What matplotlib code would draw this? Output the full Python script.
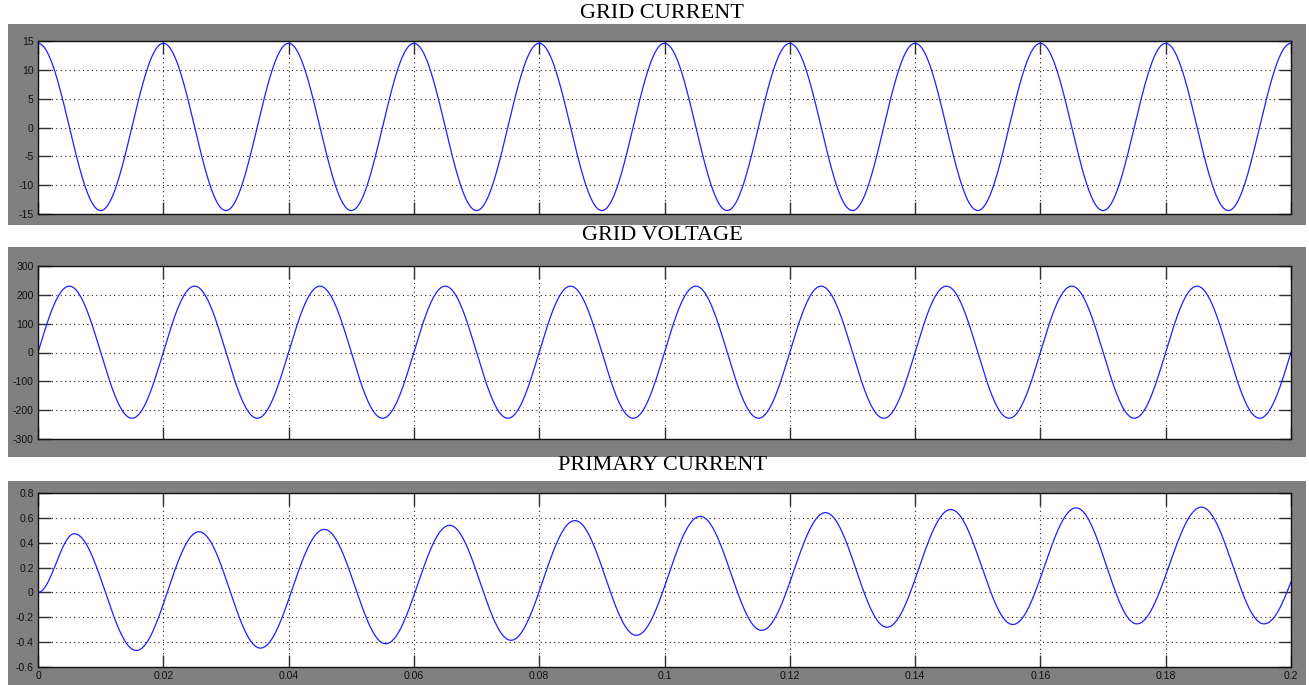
import numpy as np
import matplotlib
matplotlib.use("Agg")
import matplotlib.pyplot as plt
from matplotlib.patches import Rectangle

plt.rcParams["axes.unicode_minus"] = False

# ---- data -------------------------------------------------------------
t_start, t_end = 0.0, 0.2
x_ticks = [0.0, 0.02, 0.04, 0.06, 0.08, 0.10, 0.12, 0.14, 0.16, 0.18, 0.20]
x_tick_labels = ["0", "0.02", "0.04", "0.06", "0.08", "0.1", "0.12",
                 "0.14", "0.16", "0.18", "0.2"]

titles = ["GRID CURRENT", "GRID VOLTAGE", "PRIMARY CURRENT"]

# grid current: successive peaks / troughs (time s, value A)
gc_t = [0.00, 0.01, 0.02, 0.03, 0.04, 0.05, 0.06, 0.07, 0.08, 0.09, 0.10,
        0.11, 0.12, 0.13, 0.14, 0.15, 0.16, 0.17, 0.18, 0.19, 0.20]
gc_v = [14.6, -14.4, 14.6, -14.4, 14.6, -14.4, 14.6, -14.4, 14.6, -14.4, 14.6,
        -14.4, 14.6, -14.4, 14.6, -14.4, 14.6, -14.4, 14.6, -14.4, 14.6]
gc_yticks = [-15, -10, -5, 0, 5, 10, 15]
gc_ylim = (-15, 15)

# grid voltage: successive peaks / troughs (time s, value V)
gv_t = [-0.005, 0.005, 0.015, 0.025, 0.035, 0.045, 0.055, 0.065, 0.075, 0.085,
        0.095, 0.105, 0.115, 0.125, 0.135, 0.145, 0.155, 0.165, 0.175, 0.185,
        0.195, 0.205]
gv_v = [-230, 230, -228, 230, -228, 230, -228, 230, -228, 230,
        -228, 230, -228, 230, -228, 230, -228, 230, -228, 230,
        -228, 230]
gv_yticks = [-300, -200, -100, 0, 100, 200, 300]
gv_ylim = (-300, 300)

# primary current: start point, then successive peaks / troughs
pc_t = [0.0, 0.0058, 0.0157, 0.0257, 0.0355, 0.0457, 0.0555, 0.0657, 0.0755,
        0.0857, 0.0955, 0.1057, 0.1155, 0.1257, 0.1355, 0.1457, 0.1556,
        0.1657, 0.1754, 0.1857, 0.1957, 0.2062]
pc_v = [0.0, 0.472, -0.467, 0.488, -0.448, 0.507, -0.413, 0.54, -0.385,
        0.578, -0.345, 0.612, -0.305, 0.642, -0.28, 0.667, -0.258,
        0.68, -0.253, 0.686, -0.253, 0.69]
pc_yticks = [-0.6, -0.4, -0.2, 0, 0.2, 0.4, 0.6, 0.8]
pc_ytick_labels = ["-0.6", "-0.4", "-0.2", "0", "0.2", "0.4", "0.6", "0.8"]
pc_ylim = (-0.6, 0.8)


def waveform(knot_t, knot_v, t):
    """Smooth half-cosine transitions between consecutive extrema."""
    kt = np.asarray(knot_t, float)
    kv = np.asarray(knot_v, float)
    i = np.clip(np.searchsorted(kt, t, side="right") - 1, 0, len(kt) - 2)
    p = (t - kt[i]) / (kt[i + 1] - kt[i])
    return kv[i] + (kv[i + 1] - kv[i]) * (1 - np.cos(np.pi * p)) / 2


# ---- figure -----------------------------------------------------------
W, H = 1309, 685
fig = plt.figure(figsize=(W / 100, H / 100), dpi=100)
fig.patch.set_facecolor("white")

# (gray box top, gray box bottom, axes top, axes bottom, title y) in pixels
panels = [
    (24, 225, 41, 214, 13),
    (247, 457, 266, 439, 235),
    (481, 685, 493, 667, 466),
]
gray_l, gray_r = 8, 1306
ax_l, ax_r = 38, 1291

t = np.linspace(t_start, t_end, 4001)
series = [
    (gc_t, gc_v, gc_yticks, [str(v) for v in gc_yticks], gc_ylim),
    (gv_t, gv_v, gv_yticks, [str(v) for v in gv_yticks], gv_ylim),
    (pc_t, pc_v, pc_yticks, pc_ytick_labels, pc_ylim),
]

for k, ((gt, gb, at, ab, ty), (kt, kv, yt, ytl, yl)) in enumerate(zip(panels, series)):
    fig.add_artist(Rectangle((gray_l / W, 1 - gb / H), (gray_r - gray_l) / W,
                             (gb - gt) / H, transform=fig.transFigure,
                             facecolor="#808080", edgecolor="none", zorder=0))
    ax = fig.add_axes([ax_l / W, 1 - ab / H, (ax_r - ax_l) / W, (ab - at) / H])
    ax.set_facecolor("white")
    ax.plot(t, waveform(kt, kv, t), color="#1f1fff", lw=0.9)
    ax.set_xlim(t_start, t_end)
    ax.set_ylim(*yl)
    ax.set_xticks(x_ticks)
    ax.set_yticks(yt)
    ax.set_yticklabels(ytl)
    if k == 2:
        ax.set_xticklabels(x_tick_labels)
    else:
        ax.set_xticklabels([])
    ax.tick_params(axis="both", direction="in", length=9, width=1.0,
                   color="#303030", labelsize=7.6, labelcolor="#111111",
                   top=True, right=True, pad=3)
    for lab in ax.get_xticklabels() + ax.get_yticklabels():
        lab.set_fontfamily("Liberation Sans")
    ax.grid(True, color="#222222", linestyle=(0, (1, 3)), linewidth=0.8)
    for s in ax.spines.values():
        s.set_color("#111111")
        s.set_linewidth(1.0)
    fig.text(662 / W, 1 - ty / H, titles[k], ha="center", va="center",
             fontsize=16, family="Liberation Serif", color="black")

fig.savefig("out.png", dpi=100)
